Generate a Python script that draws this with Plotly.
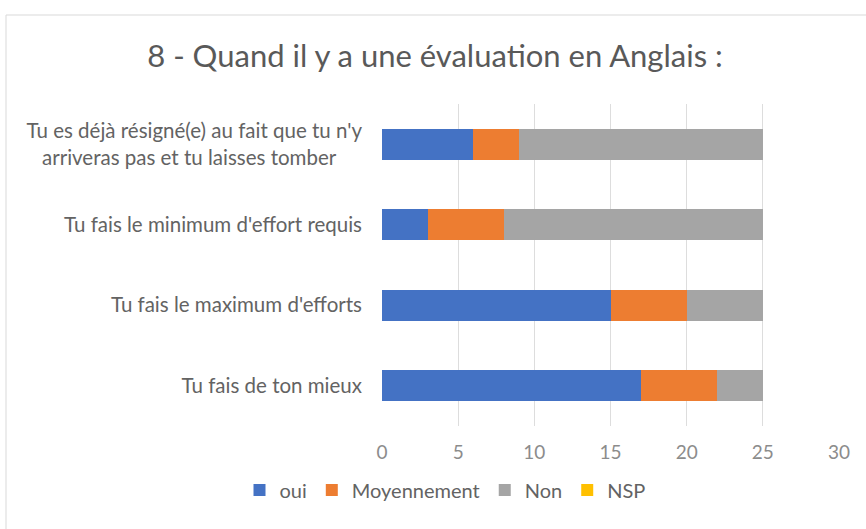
import plotly.graph_objects as go

categories = [
    "Tu fais de ton mieux",
    "Tu fais le maximum d'efforts",
    "Tu fais le minimum d'effort requis",
    "Tu es déjà résigné(e) au fait que tu n'y<br>arriveras pas et tu laisses tomber" + "\u00a0" * 5,
]
oui = [17, 15, 3, 6]
moyennement = [5, 5, 5, 3]
non = [3, 5, 17, 16]
nsp = [0, 0, 0, 0]
series_names = ["oui", "Moyennement", "Non", "NSP"]
colors = ["#4472C4", "#ED7D31", "#A5A5A5", "#FFC000"]
x_ticks = [0, 5, 10, 15, 20, 25, 30]
title = "8 - Quand il y a une évaluation en Anglais :"

FONT = "Lato, Open Sans, sans-serif"

fig = go.Figure()
for name, vals, col in zip(series_names, [oui, moyennement, non, nsp], colors):
    fig.add_trace(go.Bar(y=categories, x=vals, name=name, orientation="h",
                         marker=dict(color=col, line=dict(width=0))))

W, H = 866, 529
L, R, T, B = 382, 27, 104, 103
pw, ph = W - L - R, H - T - B

def px_to_paper_x(px):
    return (px - L) / pw

def px_to_paper_y(py):
    return (H - B - py) / ph

fig.update_layout(
    width=W, height=H,
    barmode="stack", bargap=0.61,
    margin=dict(l=L, r=R, t=T, b=B, autoexpand=False),
    paper_bgcolor="white", plot_bgcolor="white",
    font=dict(family=FONT, color="#636363", size=20),
    title=dict(text=title, x=435 / W, xref="container", xanchor="center",
               y=1 - 56 / H, yref="container", yanchor="middle",
               font=dict(size=31, color="#595959", family=FONT)),
    xaxis=dict(range=[0, 30], tickvals=x_ticks, showgrid=True, gridcolor="#DDDDDD",
               gridwidth=1, zeroline=False, showline=False, ticks="",
               tickfont=dict(size=19, color="#8C8C8C"), ticklabelstandoff=13,
               fixedrange=True, automargin=False),
    yaxis=dict(showgrid=False, zeroline=False, showline=False, ticks="",
               tickfont=dict(size=20.5, color="#636363"), ticklabelstandoff=19,
               fixedrange=True, automargin=False),
    legend=dict(orientation="h", x=px_to_paper_x(445), xanchor="center",
                y=px_to_paper_y(490), yanchor="middle",
                font=dict(size=20, color="#636363"), traceorder="normal",
                itemwidth=30),
    showlegend=True,
    shapes=[dict(type="rect", xref="paper", yref="paper",
                 x0=px_to_paper_x(6), x1=px_to_paper_x(880),
                 y0=px_to_paper_y(540), y1=px_to_paper_y(15),
                 line=dict(color="#D9D9D9", width=1), fillcolor="rgba(0,0,0,0)",
                 layer="below")],
)

fig.write_html("out.html", config={"displayModeBar": False},
               post_script="document.body.style.margin='0';")
